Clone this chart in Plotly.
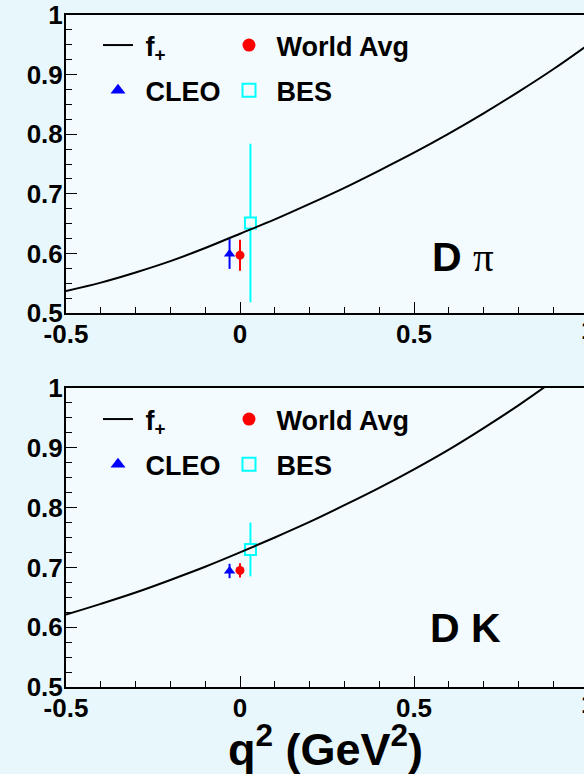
import plotly.graph_objects as go

# ---------------- data ----------------
q_curve = [-0.5, -0.4, -0.3, -0.2, -0.1, 0.0, 0.1, 0.2, 0.3, 0.4, 0.5, 0.6, 0.7, 0.8, 0.9, 1.0]
f_dpi = [0.537, 0.551, 0.568, 0.587, 0.609, 0.633, 0.657, 0.683, 0.710, 0.739, 0.769,
         0.801, 0.835, 0.871, 0.909, 0.950]
f_dk = [0.621, 0.639, 0.658, 0.679, 0.701, 0.725, 0.750, 0.776, 0.804, 0.833, 0.864,
        0.897, 0.933, 0.971, 1.012, 1.056]

exp_names = ["World Avg", "CLEO", "BES"]
exp_q = [0.0, -0.03, 0.03]
dpi_f = [0.597, 0.599, 0.651]
dpi_err = [0.026, 0.025, 0.133]
dk_f = [0.695, 0.694, 0.730]
dk_err = [0.012, 0.012, 0.045]

x_ticks = [-0.5, 0, 0.5, 1]
x_ticklabels = ["-0.5", "0", "0.5", "1"]
y_ticks = [0.5, 0.6, 0.7, 0.8, 0.9, 1.0]
y_ticklabels = ["0.5", "0.6", "0.7", "0.8", "0.9", "1"]

# ---------------- styling ----------------
PAPER = "#e8f7fb"
PLOT = "#f3fbfe"
FONT = "Liberation Sans"
TICK_SIZE = 26
exp_colors = ["#ff0000", "#0000ff", "#00ffff"]
exp_symbols = ["circle", "triangle-up", "square"]
exp_sizes = [9, 10, 11]

fig = go.Figure()

panels = [
    dict(f=f_dpi, pf=dpi_f, pe=dpi_err, xa="x", ya="y", legs=("legend", "legend2")),
    dict(f=f_dk, pf=dk_f, pe=dk_err, xa="x2", ya="y2", legs=("legend3", "legend4")),
]

for p in panels:
    # measurement points with error bars
    for i, name in enumerate(exp_names):
        is_open = exp_symbols[i] == "square"
        fig.add_trace(go.Scatter(
            x=[exp_q[i]], y=[p["pf"][i]], mode="markers",
            xaxis=p["xa"], yaxis=p["ya"], showlegend=False,
            marker=dict(symbol=exp_symbols[i], size=exp_sizes[i],
                        color=PLOT if is_open else exp_colors[i],
                        line=dict(color=exp_colors[i], width=2 if is_open else 0)),
            error_y=dict(type="data", array=[p["pe"][i]], width=0, thickness=2,
                         color=exp_colors[i]),
            cliponaxis=False,
        ))
    # form factor curve
    fig.add_trace(go.Scatter(
        x=q_curve, y=p["f"], mode="lines", line=dict(color="black", width=2, shape="spline"),
        xaxis=p["xa"], yaxis=p["ya"], showlegend=False,
    ))
    # legend entries: column 1 (f+, CLEO), column 2 (World Avg, BES)
    leg1, leg2 = p["legs"]
    fig.add_trace(go.Scatter(x=[None], y=[None], mode="lines", name="\u00a0f<sub>+</sub>",
                             line=dict(color="black", width=2), legend=leg1,
                             legendgroup=leg1 + "a", xaxis=p["xa"], yaxis=p["ya"]))
    fig.add_trace(go.Scatter(x=[None], y=[None], mode="markers", name="\u00a0" + exp_names[1],
                             marker=dict(symbol="triangle-up", size=13, color=exp_colors[1]),
                             legend=leg1, legendgroup=leg1 + "b", xaxis=p["xa"], yaxis=p["ya"]))
    fig.add_trace(go.Scatter(x=[None], y=[None], mode="markers", name="\u00a0" + exp_names[0],
                             marker=dict(symbol="circle", size=13, color=exp_colors[0]),
                             legend=leg2, legendgroup=leg2 + "a", xaxis=p["xa"], yaxis=p["ya"]))
    fig.add_trace(go.Scatter(x=[None], y=[None], mode="markers", name="\u00a0" + exp_names[2],
                             marker=dict(symbol="square", size=13, color=PLOT,
                                         line=dict(color=exp_colors[2], width=2)),
                             legend=leg2, legendgroup=leg2 + "b", xaxis=p["xa"], yaxis=p["ya"]))

X_RANGE = [-0.5, -0.5 + 518 / 348]


def xaxis(anchor):
    return dict(
        range=X_RANGE, tickvals=x_ticks, ticktext=x_ticklabels,
        ticks="inside", ticklen=11, tickwidth=1, tickcolor="black",
        showline=True, linecolor="black", linewidth=2, mirror=True,
        showgrid=False, zeroline=False, anchor=anchor,
        tickfont=dict(family=FONT, size=TICK_SIZE, color="black", weight="bold"),
        ticklabelstandoff=-3,
        minor=dict(dtick=0.1, tick0=0, ticks="inside", ticklen=6, tickwidth=1,
                   tickcolor="black", showgrid=False),
    )


def yaxis(anchor, domain):
    return dict(
        range=[0.5, 1.0], tickvals=y_ticks, ticktext=y_ticklabels, domain=domain,
        ticks="inside", ticklen=11, tickwidth=1, tickcolor="black",
        showline=True, linecolor="black", linewidth=2, mirror=False,
        showgrid=False, zeroline=False, anchor=anchor,
        tickfont=dict(family=FONT, size=TICK_SIZE, color="black", weight="bold"),
        ticklabelstandoff=-4,
        minor=dict(dtick=0.025, tick0=0.5, ticks="inside", ticklen=6, tickwidth=1,
                   tickcolor="black", showgrid=False),
    )


legend_common = dict(
    bgcolor="rgba(0,0,0,0)", borderwidth=0, orientation="v", traceorder="grouped",
    tracegroupgap=7, xanchor="left", yanchor="top",
    font=dict(family=FONT, size=27, color="black", weight="bold"),
)

top_dom = [(687 - 313) / 672, 1.0]
bot_dom = [0.0, (687 - 388) / 672]


def px_x(px):
    return (px - 66) / 518


def px_y(py):
    return (687 - py) / 672


fig.update_layout(
    width=584, height=774,
    margin=dict(l=66, r=0, t=15, b=87),
    paper_bgcolor=PAPER, plot_bgcolor=PLOT,
    xaxis=xaxis("y"), yaxis=yaxis("x", top_dom),
    xaxis2=xaxis("y2"), yaxis2=yaxis("x2", bot_dom),
    legend=dict(legend_common, x=px_x(98), y=px_y(21)),
    legend2=dict(legend_common, x=px_x(229), y=px_y(21)),
    legend3=dict(legend_common, x=px_x(98), y=px_y(395)),
    legend4=dict(legend_common, x=px_x(229), y=px_y(395)),
    font=dict(family=FONT, color="black"),
)

annotations = [
    dict(text="<b>D</b> <span style='font-family:Liberation Serif'>\u03c0</span>",
         xref="paper", yref="paper", x=px_x(463), y=px_y(257), showarrow=False,
         xanchor="center", yanchor="middle", font=dict(family=FONT, size=41, color="black")),
    dict(text="<b>D K</b>",
         xref="paper", yref="paper", x=px_x(465), y=px_y(628), showarrow=False,
         xanchor="center", yanchor="middle", font=dict(family=FONT, size=41, color="black")),
    dict(text="<b>q<sup>2</sup> (GeV<sup>2</sup>)</b>",
         xref="paper", yref="paper", x=0.5, y=px_y(746), showarrow=False,
         xanchor="center", yanchor="middle", font=dict(family=FONT, size=45, color="black")),
]
# the "1" x tick label, which sits just past the right edge of the picture
for py in (330, 704):
    annotations.append(dict(text="<b>1</b>", xref="paper", yref="paper", x=px_x(588), y=px_y(py),
                            showarrow=False, xanchor="center", yanchor="middle",
                            font=dict(family=FONT, size=TICK_SIZE, color="black")))
fig.update_layout(annotations=annotations)

fig.write_html("out.html")
